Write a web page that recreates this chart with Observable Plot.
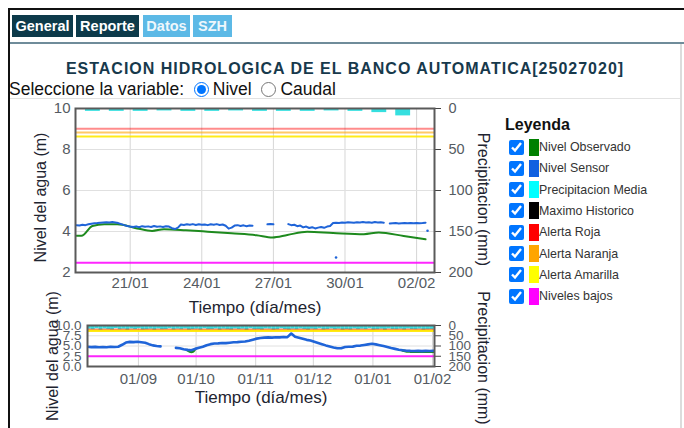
<!DOCTYPE html>
<html><head><meta charset="utf-8">
<script src="https://cdn.jsdelivr.net/npm/d3@7"></script>
<script src="https://cdn.jsdelivr.net/npm/@observablehq/plot@0.6"></script>
<style>
body{margin:0;width:684px;height:428px;overflow:hidden;background:#fff;font-family:"Liberation Sans",Arial,sans-serif;position:relative}
.abs{position:absolute}
.tab{position:absolute;top:15px;height:22px;line-height:22px;color:#fff;font-weight:bold;font-size:14.5px;text-align:center}
.dark{background:#0d3a4a}
.light{background:#5cb9e6;color:#eef7fc}
#title{left:10px;width:670px;top:60px;text-align:center;font-weight:bold;font-size:16px;letter-spacing:1px;color:#17394c}
#sel{left:9px;top:79px;font-size:17.5px;color:#111;display:flex;align-items:center;white-space:nowrap}
#sel input{width:15px;height:15px;margin:0 4px 0 0}
#legend{left:0;top:0}
.lrow{position:absolute;left:509px;height:20px;display:flex;align-items:center}
.lrow input{width:15px;height:15px;margin:0 5px 0 0}
.sw{width:10px;height:17px}
.lt{font-size:12.4px;color:#333;white-space:nowrap}
#chartMain{left:0;top:100px}
#chartLong{left:0;top:285px}
</style></head>
<body>
<div class="abs" style="left:8px;top:8px;width:676px;height:2px;background:#111"></div>
<div class="abs" style="left:8px;top:8px;width:2px;height:420px;background:#111"></div>
<div class="tab dark" style="left:12px;width:61px">General</div>
<div class="tab dark" style="left:76px;width:63px">Reporte</div>
<div class="tab light" style="left:143px;width:47px">Datos</div>
<div class="tab light" style="left:193px;width:39px">SZH</div>
<div class="abs" style="left:10px;top:42px;width:674px;height:2px;background:#6f8c9a"></div>
<div class="abs" style="left:680px;top:44px;width:2px;height:384px;background:#dcdcdc"></div>
<div class="abs" id="title">ESTACION HIDROLOGICA DE EL BANCO AUTOMATICA[25027020]</div>
<div class="abs" id="sel">Seleccione la variable:&nbsp;&nbsp;<input type="radio" name="v" checked>Nivel&nbsp;&nbsp;<input type="radio" name="v">Caudal</div>
<div class="abs" style="left:10px;top:98px;width:670px;height:1px;background:#e2e2e2"></div>
<div class="abs" id="chartMain"></div>
<div class="abs" id="chartLong"></div>
<div class="abs" style="left:505px;top:116px;font-weight:bold;font-size:16px;color:#111">Leyenda</div>
<div id="legend" class="abs"></div>
<script>
// ---------- data ----------
const legendNames = ["Nivel Observado","Nivel Sensor","Precipitacion Media","Maximo Historico","Alerta Roja","Alerta Naranja","Alerta Amarilla","Niveles bajos"];
const legendColors = ["#008000","#1060e0","#00ffff","#000000","#ff0000","#ffa500","#ffff00","#ff00ff"];

const thresholdNames = ["Alerta Roja","Alerta Naranja","Alerta Amarilla","Niveles bajos"];
const thresholdValues = [9.01, 8.83, 8.63, 2.47];
const thresholdColors = ["#ff0000","#ffa500","#ffe800","#ff00ff"];
const thresholdOpacity = [0.45, 0.6, 0.9, 0.85];

// main window (15 days)
const mainDomain = ["2025-01-18T17:00","2025-02-02T18:00"];
const mainTicks = ["2025-01-21","2025-01-24","2025-01-27","2025-01-30","2025-02-02"];
const mainYTicks = [2,4,6,8,10];
const sensorMainStart = "2025-01-18T18:00";
const sensorMainStepHours = 3;
const sensorMainValues = [
 4.31,4.29,4.33,4.31,4.35, 4.38,4.40,4.41,4.43,4.44,
 4.45,4.44,4.46,4.44,4.41, 4.36,4.31,4.27,4.24,4.22,
 4.25,4.21,4.26,4.23,4.25, 4.22,4.27,4.23,4.25,4.22,
 4.26,4.24,4.16,4.12,4.19, 4.34,4.32,4.35,4.33,4.36,
 4.32,4.35,4.33,4.34,4.31, 4.35,4.33,4.36,4.32,4.34,
 4.28,4.14,4.19,4.29,4.31, 4.27,4.30,4.26,4.29,4.28,
 null,null,null,null,4.35, 4.37,4.35,null,null,null,
 null,4.36,4.31,4.33,4.26, 4.29,4.20,4.24,4.17,4.21,
 4.15,4.19,4.22,4.18,4.24, 4.27,4.41,4.43,4.42,4.44,
 4.43,4.45,4.44,4.43,4.45, 4.44,4.46,4.44,4.45,4.43,
 4.46,4.44,4.45,4.43,null, 4.39,4.40,4.41,4.39,4.40,
 4.41,4.40,4.42,4.40,4.41, 4.40,4.41,4.43];
const sensorOutlierTimes = ["2025-01-29T15:00","2025-02-02T11:00"];
const sensorOutlierValues = [2.73, 4.04];
const obsMainTimes = ["2025-01-18T18:00","2025-01-18T23:00","2025-01-19T10:00","2025-01-19T22:00","2025-01-20T11:00","2025-01-21T07:00","2025-01-21T22:00","2025-01-22T10:00","2025-01-23T08:00","2025-01-24T06:00","2025-01-25T06:00","2025-01-26T07:00","2025-01-26T23:00","2025-01-27T14:00","2025-01-28T10:00","2025-01-29T12:00","2025-01-30T19:00","2025-01-31T10:00","2025-02-01T11:00","2025-02-02T09:00"];
const obsMainValues = [3.79,3.79,4.27,4.35,4.35,4.15,4.03,4.11,4.06,3.99,3.91,3.82,3.71,3.83,3.99,3.93,3.87,3.95,3.78,3.62];
const precipMainDays = ["2025-01-19","2025-01-20","2025-01-21","2025-01-22","2025-01-23","2025-01-24","2025-01-25","2025-01-26","2025-01-27","2025-01-28","2025-01-29","2025-01-30","2025-01-31","2025-02-01"];
const precipMainMm = [3.5,3.5,3.5,3,3.5,3.5,3,3.5,3.5,3.5,3,3.5,5,9];

// long window (6 months)
const longDomain = ["2024-08-05T12:00","2025-02-02T01:00"];
const longTicks = ["2024-09-01","2024-10-01","2024-11-01","2024-12-01","2025-01-01","2025-02-01"];
const longYTicks = [0,2.5,5,7.5,10];
const sensorLongStart = "2024-08-05T12:00";
const sensorLongStepDays = 2;
const sensorLongValues = [
 4.80,4.72,4.78,4.68,4.75,4.70,4.80,4.74,4.82,5.30,
 5.85,6.00,5.95,6.02,5.92,5.80,5.45,5.15,5.00,4.90,
 null,null,null,4.55,4.45,4.20,4.05,3.95,4.30,4.55,
 4.80,5.20,5.45,5.60,5.65,5.75,5.70,5.80,5.90,5.95,
 6.05,6.10,6.30,6.55,6.80,6.95,7.05,7.10,7.05,7.15,
 7.10,7.20,7.15,8.05,7.25,7.00,6.75,6.50,6.35,6.05,
 5.75,5.45,5.15,4.90,4.65,4.45,4.45,4.75,4.80,4.85,
 5.05,5.10,5.25,5.40,5.55,5.40,5.20,5.00,4.75,4.50,
 4.30,4.10,3.95,3.85,3.80,3.78,3.82,3.75,3.80,3.78,3.85];
// two short observed stretches that show beneath the sensor line
const obsLongTimes = ["2024-09-26T12:00","2024-09-28T12:00","2024-09-29T12:00","2024-09-30T12:00","2025-01-16T12:00","2025-01-18T12:00","2025-01-20T12:00","2025-01-22T12:00","2025-01-24T12:00","2025-01-26T12:00","2025-01-28T12:00","2025-01-30T12:00","2025-02-01T12:00"];
const obsLongValues = [4.00,3.55,3.70,4.25,3.88,3.68,3.64,3.62,3.60,3.58,3.62,3.60,3.58];
const obsLongSegment = [1,1,1,1,2,2,2,2,2,2,2,2,2];
const precipLongStepDays = 2;
const precipLongMm = [
 18,21,16,24,17,20,23,15,21,18,
 25,17,20,16,23,21,18,24,17,21,
 20,16,23,18,21,17,24,20,18,23,
 16,21,20,17,24,18,21,23,17,20,
 18,25,16,21,20,23,17,18,24,21,
 16,20,23,18,21,17,20,24,18,21,
 16,23,20,17,21,18,24,20,23,17,
 21,18,20,16,23,21,18,24,17,20,
 21,18,23,17,20,21,18,24,21,20,18];

// ---------- helpers ----------
const P = s => new Date(s.length === 10 ? s + "T00:00:00Z" : s + ":00Z");
const HOUR = 3600e3, DAY = 24 * HOUR;
const fmt = d3.utcFormat("%d/%m");
const FONT = "'Liberation Sans', Arial, sans-serif";

const sensorMain = sensorMainValues.map((v, i) => ({t: new Date(+P(sensorMainStart) + i * sensorMainStepHours * HOUR), v}));
const obsMain = obsMainTimes.map((t, i) => ({t: P(t), v: obsMainValues[i], z: 1}));
const outliers = sensorOutlierTimes.map((t, i) => ({t: P(t), v: sensorOutlierValues[i]}));
const precipMain = precipMainDays.map((d, i) => ({t1: P(d), t2: new Date(+P(d) + DAY), mm: precipMainMm[i]}));
const thresholds = thresholdNames.map((n, i) => ({n, v: thresholdValues[i], c: thresholdColors[i], o: thresholdOpacity[i]}));

const sensorLong = sensorLongValues.map((v, i) => ({t: new Date(+P(sensorLongStart) + i * sensorLongStepDays * DAY), v}));
const obsLong = obsLongTimes.map((t, i) => ({t: P(t), v: obsLongValues[i], z: obsLongSegment[i]}));
const precipLong = precipLongMm.map((mm, i) => {
  const t1 = new Date(+P(sensorLongStart) + i * precipLongStepDays * DAY);
  return {t1, t2: new Date(+t1 + precipLongStepDays * DAY), mm};
});

function chart(o) {
  const {width, height, mt, mb, ml, mr, domain, xticks, yDomain, yticks, yFmt, mmFactor, rightTicks,
         precip, sensor, obs, dots, precipInsetL, precipInsetR, xPad, yPad, titleDy, leftDy, rightDy,
         yFont, rFont, lineW} = o;
  const top = yDomain[1];
  return Plot.plot({
    width, height, marginTop: mt, marginBottom: mb, marginLeft: ml, marginRight: mr,
    style: {fontFamily: FONT, fontSize: "15px", color: "#555b62", background: "transparent", overflow: "visible"},
    x: {type: "utc", domain: domain.map(P)},
    y: {domain: yDomain},
    marks: [
      Plot.gridX(xticks.map(P), {stroke: "#d6d6d6", strokeOpacity: 1}),
      Plot.gridY(yticks, {stroke: "#e0e0e0", strokeOpacity: 1}),
      Plot.rect(precip, {x1: "t1", x2: "t2", y1: top, y2: d => top - d.mm * mmFactor,
        fill: "#1fdcdc", fillOpacity: 0.9, insetLeft: precipInsetL, insetRight: precipInsetR, clip: true}),
      Plot.ruleY(thresholds, {y: "v", stroke: "c", strokeOpacity: "o", strokeWidth: 2}),
      Plot.line(obs, {x: "t", y: "v", z: "z", stroke: "#1e8a1e", strokeWidth: lineW, curve: "monotone-x", clip: true}),
      Plot.line(sensor, {x: "t", y: "v", stroke: "#1f64d8", strokeWidth: lineW, clip: true}),
      Plot.dot(dots, {x: "t", y: "v", r: 1.3, fill: "#1f64d8", stroke: null}),
      Plot.axisX(xticks.map(P), {tickFormat: fmt, tickSize: 0, tickPadding: xPad, label: null}),
      Plot.axisY(yticks, {anchor: "left", tickFormat: yFmt, tickSize: 0, tickPadding: yPad, fontSize: yFont, label: null}),
      Plot.axisY(rightTicks.map(mm => top - mm * mmFactor), {anchor: "right", tickFormat: v => String(Math.round((top - v) / mmFactor)),
        tickSize: 6, tickPadding: 8, stroke: "#444", fontSize: rFont, label: null}),
      Plot.frame({stroke: "#5a5a5a", strokeWidth: 2}),
      Plot.text(["Nivel del agua (m)"], {frameAnchor: "left", dx: -35, dy: leftDy, rotate: -90, textAnchor: "middle", lineAnchor: "middle", fontSize: 16, fill: "#1e2430"}),
      Plot.text(["Precipitacion (mm)"], {frameAnchor: "right", dx: 49, dy: rightDy, rotate: 90, textAnchor: "middle", lineAnchor: "middle", fontSize: 16, fill: "#1e2430"}),
      Plot.text(["Tiempo (día/mes)"], {frameAnchor: "bottom", dy: titleDy, textAnchor: "middle", lineAnchor: "middle", fontSize: 17, fill: "#1e2430"})
    ]
  });
}

document.getElementById("chartMain").append(chart({
  width: 500, height: 216, mt: 8, mb: 44, ml: 75, mr: 66,
  domain: mainDomain, xticks: mainTicks, yDomain: [2, 10], yticks: mainYTicks, yFmt: d => String(d),
  mmFactor: 0.04, rightTicks: [0, 50, 100, 150, 200],
  precip: precipMain, sensor: sensorMain, obs: obsMain, dots: outliers,
  precipInsetL: 3, precipInsetR: 6, xPad: 5, yPad: 5, titleDy: 35, leftDy: 7, rightDy: 9,
  yFont: 15, rFont: 14.5, lineW: 2
}));

document.getElementById("chartLong").append(chart({
  width: 500, height: 143, mt: 40, mb: 62, ml: 87, mr: 66,
  domain: longDomain, xticks: longTicks, yDomain: [0, 10], yticks: longYTicks, yFmt: d => d.toFixed(1),
  mmFactor: 0.05, rightTicks: [0, 50, 100, 150, 200],
  precip: precipLong, sensor: sensorLong, obs: obsLong, dots: [],
  precipInsetL: 0, precipInsetR: 0, xPad: 7, yPad: 6, titleDy: 31, leftDy: 10, rightDy: 12,
  yFont: 13.5, rFont: 13.5, lineW: 2.6
}));

// legend
const leg = document.getElementById("legend");
legendNames.forEach((n, i) => {
  const row = document.createElement("div");
  row.className = "lrow";
  row.style.top = (137 + i * 21.3) + "px";
  row.innerHTML = `<input type="checkbox" checked><div class="sw" style="background:${legendColors[i]}"></div><span class="lt">${n}</span>`;
  leg.append(row);
});
</script>
</body></html>
